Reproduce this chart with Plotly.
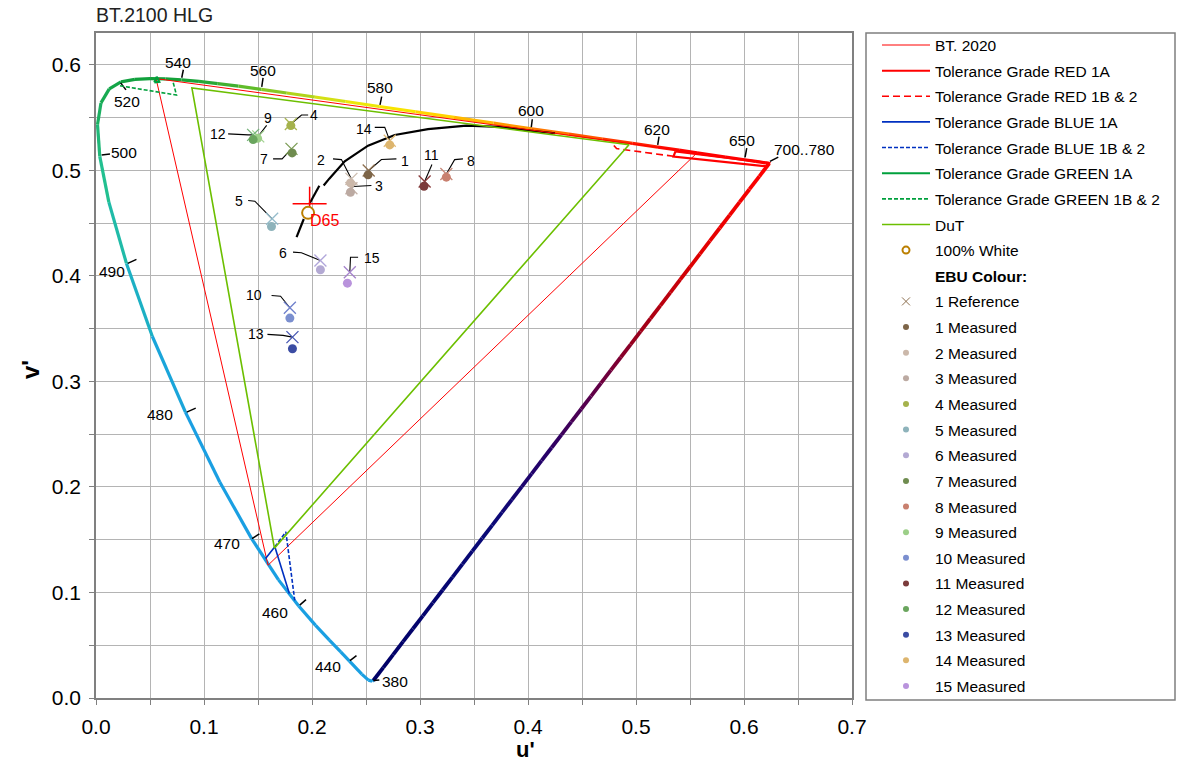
import numpy as np
import plotly.graph_objects as go

FONT = "Liberation Sans, Arial, sans-serif"

# ---------------------------------------------------------------- figure frame
W, H = 1178, 762
M_L, M_R, M_T, M_B = 96, 326, 33, 64
U_RANGE = [0.0, 0.7]
V_RANGE = [0.0, 0.63]
PLOT_W = W - M_L - M_R
PLOT_H = H - M_T - M_B
PX_U = PLOT_W / (U_RANGE[1] - U_RANGE[0])   # pixels per unit u'
PX_V = PLOT_H / (V_RANGE[1] - V_RANGE[0])   # pixels per unit v'


def offset(u, v, dx, dy):
    """Move a data point by (dx, dy) screen pixels (dy positive = up)."""
    return u + dx / PX_U, v + dy / PX_V


def paper_x(px):
    return (px - M_L) / PLOT_W


def paper_y(py):
    return (H - M_B - py) / PLOT_H


# ---------------------------------------------------------------- spectral locus (CIE 1976 u'v')
wavelengths = [380, 400, 420, 430, 440, 445, 450, 455, 460, 465, 470, 475, 480, 485,
               490, 495, 500, 505, 510, 515, 520, 525, 530, 535, 540, 545, 550, 555,
               560, 565, 570, 575, 580, 585, 590, 595, 600, 605, 610, 615, 620, 625,
               630, 640, 650, 660, 680, 700]
locus_u = [0.2568, 0.2557, 0.2522, 0.2461, 0.2347, 0.2266, 0.2161, 0.2033, 0.1877, 0.1690,
           0.1441, 0.1147, 0.0828, 0.0521, 0.0282, 0.0119, 0.0035, 0.0014, 0.0046, 0.0123,
           0.0231, 0.0360, 0.0501, 0.0643, 0.0792, 0.0953, 0.1127, 0.1319, 0.1531, 0.1766,
           0.2026, 0.2312, 0.2623, 0.2960, 0.3315, 0.3681, 0.4035, 0.4379, 0.4692, 0.4968,
           0.5203, 0.5399, 0.5565, 0.5830, 0.6005, 0.6109, 0.6199, 0.6234]
locus_v = [0.0166, 0.0159, 0.0169, 0.0226, 0.0350, 0.0437, 0.0549, 0.0688, 0.0871, 0.1119,
           0.1510, 0.2044, 0.2708, 0.3427, 0.4117, 0.4698, 0.5131, 0.5432, 0.5638, 0.5770,
           0.5837, 0.5861, 0.5868, 0.5865, 0.5856, 0.5841, 0.5821, 0.5796, 0.5766, 0.5732,
           0.5694, 0.5651, 0.5604, 0.5554, 0.5501, 0.5446, 0.5393, 0.5342, 0.5296, 0.5254,
           0.5219, 0.5190, 0.5165, 0.5125, 0.5099, 0.5084, 0.5070, 0.5065]
locus_colours = (['#1a9fe2'] * 12 +
                 ['#1aa5da', '#1cb0c4', '#20bba8', '#22c090', '#20b878', '#1cb062', '#18aa52',
                  '#14a548', '#12a040', '#10a03c', '#12a03a', '#14a238', '#1aa438', '#28a836',
                  '#40b030', '#60bc2a', '#88c824', '#b0d41c', '#d4e014', '#ece80a', '#f8e400',
                  '#ffd400', '#ffb800', '#ff9800', '#ff7800', '#ff5800', '#ff3800', '#ff2000',
                  '#ff0c00'] +
                 ['#ff0000'] * 7)

# purple line colour ramp (fraction along the line from 700 nm to 380 nm)
purple_stops = [0.0, 0.18, 0.32, 0.44, 0.56, 0.70, 1.0]
purple_colours = ['#ff0000', '#e00000', '#a00018', '#600048', '#280068', '#0a0a78', '#000066']

# labelled wavelengths
wl_marks = [380, 440, 460, 470, 480, 490, 500, 520, 540, 560, 580, 600, 620, 650, 700]
wl_text = ['380', '440', '460', '470', '480', '490', '500', '520', '540', '560', '580',
           '600', '620', '650', '700..780']
# tick start / end and label centre, in pixels relative to the locus point
wl_tick_start = [(0, 0), (0.5, 0.5), (1, 1), (0.3, 0), (1.3, 0), (1.3, 0), (1.9, 1.5),
                 (-0.3, -1), (0.2, 2.1), (0.4, 2.5), (0.7, 1.6), (-0.5, 1.5), (-0.2, 2.3),
                 (0.5, 2.3), (0.7, 1.9)]
wl_tick_end = [(6, 0.5), (7, 5.5), (7.3, 6.5), (7.7, 4.7), (10.3, 4), (10, 4), (10.2, 2.5),
               (5, -8), (1.8, 10.1), (1.7, 11.5), (2.4, 9.9), (0.5, 9.5), (1.1, 10.6),
               (2.2, 11.7), (9, 6.3)]
wl_label_pos = [(21.7, -1), (-21.2, -5), (-23.7, -6.8), (-25, -5.3), (-25.4, -1.9),
                (-14.5, -8.5), (24.2, 3.5), (6, -20), (-3.5, 17.1), (1.7, 18.5), (0.7, 18.6),
                (-0.8, 18.6), (-0.9, 17.3), (-2.8, 19), (35.5, 13.6)]

# ---------------------------------------------------------------- gamut triangles and tolerances
bt2020_u = [0.5566, 0.0556, 0.1593, 0.5566]
bt2020_v = [0.5165, 0.5868, 0.1258, 0.5165]

red_1a_u = [0.5365, 0.6234, 0.6215, 0.5347, 0.5365]
red_1a_v = [0.5178, 0.5068, 0.5036, 0.5130, 0.5178]
red_1b_u = [0.4795, 0.4820, 0.5347]
red_1b_v = [0.5235, 0.5205, 0.5132]

blue_1a_u = [0.1570, 0.1656, 0.1790]
blue_1a_v = [0.1322, 0.1432, 0.0990]
blue_1b_u = [0.1656, 0.1758, 0.1840]
blue_1b_v = [0.1432, 0.1574, 0.0925]

green_1a_u = [0.0540, 0.0562, 0.0586, 0.0540]
green_1a_v = [0.5832, 0.5885, 0.5838, 0.5832]
green_1b_u = [0.0222, 0.0745, 0.0710]
green_1b_v = [0.5800, 0.5712, 0.5850]

dut_u = [0.4935, 0.0888, 0.1652, 0.4935]
dut_v = [0.5242, 0.5780, 0.1420, 0.5242]

# ---------------------------------------------------------------- white point
d65 = (0.1978, 0.4683)
white_measured = (0.1964, 0.4596)

# Planckian locus, drawn in three pieces
planck_lo_u = [0.1857, 0.1924]
planck_lo_v = [0.4366, 0.4538]
planck_mid_u = [0.1975, 0.2068]
planck_mid_v = [0.4680, 0.4852]
planck_hi_u = [0.2108, 0.2160, 0.2303, 0.2519, 0.2766, 0.3074, 0.3430, 0.3737, 0.4015, 0.4250]
planck_hi_v = [0.4855, 0.4920, 0.5085, 0.5233, 0.5334, 0.5390, 0.5423, 0.5410, 0.5375, 0.5350]

# ---------------------------------------------------------------- EBU colours
ebu_ids = list(range(1, 16))
ref_u = [0.2525, 0.2365, 0.2365, 0.1804, 0.1631, 0.2078, 0.1810, 0.3244, 0.1502, 0.1795,
         0.3043, 0.1455, 0.1819, 0.2720, 0.2350]
ref_v = [0.4997, 0.4918, 0.4830, 0.5438, 0.4540, 0.4145, 0.5202, 0.4965, 0.5321, 0.3697,
         0.4893, 0.5335, 0.3419, 0.5280, 0.4034]
meas_u = [0.2519, 0.2356, 0.2356, 0.1804, 0.1625, 0.2078, 0.1816, 0.3244, 0.1496, 0.1795,
          0.3037, 0.1455, 0.1819, 0.2720, 0.2328]
meas_v = [0.4956, 0.4880, 0.4791, 0.5423, 0.4467, 0.4057, 0.5164, 0.4934, 0.5302, 0.3599,
          0.4848, 0.5290, 0.3309, 0.5240, 0.3930]
meas_colours = ['#7d6548', '#cbb8aa', '#bcaaa2', '#a5b24c', '#8eb3bb', '#b3a9d3', '#6f8c4f',
                '#c9806f', '#9ccf88', '#7b8fcf', '#7b3b3b', '#6aa55e', '#3b4ca3', '#ddb56e',
                '#b993dc']
ref_colours = ['#8d7050', '#ccbcae', '#c4b2a8', '#a9b653', '#95bccb', '#b0a6da', '#7c9d55',
               '#c88a7b', '#a3d392', '#6f80cc', '#8a3c3c', '#75b27a', '#4757b3', '#e2bb75',
               '#a583cc']
# callout geometry, pixels relative to the reference cross (dy positive = up)
ebu_elbow = [(12.7, 11), (-10, 19.3), (2, 1.6), (10.7, 9), (-17.3, 17.6), (-19, 7.7),
             (-9.4, -10), (8.3, 14.3), (8.4, 10), (-9.3, 11.6), (7.3, 16.7), (-5, 0),
             (-9.4, 1.7), (-5, 13.3), (0.7, 15)]
ebu_end = [(27.7, 11.7), (-18.4, 20), (20, 2.6), (17.3, 9), (-24, 18.3), (-27.4, 8.3),
           (-18.4, -10), (16.6, 15), (8.4, 11), (-18.3, 12.3), (7.3, 17), (-25, 1),
           (-25, 2.7), (-15, 13.3), (8.3, 15)]
ebu_label_pos = [(36, 9.3), (-30, 19.3), (27.6, 2.6), (23.3, 9), (-33, 17.6), (-37.4, 7.3),
                 (-27.4, -10), (24.3, 13.3), (9.4, 18), (-36, 12.3), (7.3, 26.7), (-35.6, 1),
                 (-36, 2.7), (-25.7, 11.7), (21.7, 14.4)]

# legend panel geometry (pixels)
LEG_BOX = (866, 33, 1175, 700)
LEG_LEFT = 877
LEG_FIRST_ROW = 45
LEG_ROW_STEP = 25.64
LEG_FONT = 15.5
LEG_SPLIT = 13            # rows in the first legend block


# ---------------------------------------------------------------- helpers
def hex_rgb(h):
    return [int(h[i:i + 2], 16) for i in (1, 3, 5)]


def purple_colour(t):
    cols = np.array([hex_rgb(c) for c in purple_colours], float)
    rgb = [np.interp(t, purple_stops, cols[:, k]) for k in range(3)]
    return 'rgb(%d,%d,%d)' % tuple(int(round(c)) for c in rgb)


fig = go.Figure()


def add_line(us, vs, colour, width, dash='solid'):
    fig.add_trace(go.Scatter(
        x=us, y=vs, mode='lines', line=dict(color=colour, width=width, dash=dash),
        showlegend=False, hoverinfo='skip'))


legend_rows = []   # (name, legend trace kwargs)


def add_legend_row(name, **kw):
    legend_rows.append((name, kw))


# spectral locus, one coloured piece per wavelength step
for i in range(len(wavelengths) - 1):
    add_line([locus_u[i], locus_u[i + 1]], [locus_v[i], locus_v[i + 1]],
             locus_colours[i], 3.2)

# purple line, shaded from red to deep blue
n_steps = 40
u_a, v_a = locus_u[-1], locus_v[-1]
u_b, v_b = locus_u[0], locus_v[0]
for k in range(n_steps):
    t0, t1 = k / n_steps, (k + 1) / n_steps
    add_line([u_a + (u_b - u_a) * t0, u_a + (u_b - u_a) * t1],
             [v_a + (v_b - v_a) * t0, v_a + (v_b - v_a) * t1],
             purple_colour((t0 + t1) / 2), 3.8)

# wavelength ticks
for wl, (sx, sy), (ex, ey) in zip(wl_marks, wl_tick_start, wl_tick_end):
    i = wavelengths.index(wl)
    p0 = offset(locus_u[i], locus_v[i], sx, sy)
    p1 = offset(locus_u[i], locus_v[i], ex, ey)
    add_line([p0[0], p1[0]], [p0[1], p1[1]], 'black', 1.5)

# Planckian locus
add_line(planck_lo_u, planck_lo_v, 'black', 2.2)
add_line(planck_mid_u, planck_mid_v, 'black', 2.2)
add_line(planck_hi_u, planck_hi_v, 'black', 2.2)

# D65 target cross
h0 = offset(*d65, -17, 0)
h1 = offset(*d65, 17, 0)
v0 = offset(*d65, 0, 17)
v1 = offset(*d65, 0, -13)
add_line([h0[0], h1[0]], [h0[1], h1[1]], '#ff0000', 1.5)
add_line([v0[0], v1[0]], [v0[1], v1[1]], '#ff0000', 1.5)

# EBU callout lines
for u, v, el, en in zip(ref_u, ref_v, ebu_elbow, ebu_end):
    pe = offset(u, v, *el)
    pn = offset(u, v, *en)
    add_line([u, pe[0], pn[0]], [v, pe[1], pn[1]], 'black', 1.1)

# gamut / tolerance outlines
outlines = [
    ('BT. 2020', bt2020_u, bt2020_v, '#ff0000', 1, 'solid'),
    ('Tolerance Grade RED 1A', red_1a_u, red_1a_v, '#ff0000', 2.2, 'solid'),
    ('Tolerance Grade RED 1B & 2', red_1b_u, red_1b_v, '#ff0000', 1.6, '7px,4px'),
    ('Tolerance Grade BLUE 1A', blue_1a_u, blue_1a_v, '#0030c0', 1.6, 'solid'),
    ('Tolerance Grade BLUE 1B & 2', blue_1b_u, blue_1b_v, '#0030c0', 1.6, '4px,2px'),
    ('Tolerance Grade GREEN 1A', green_1a_u, green_1a_v, '#00a03c', 2.2, 'solid'),
    ('Tolerance Grade GREEN 1B & 2', green_1b_u, green_1b_v, '#00a03c', 1.6, '4px,2px'),
    ('DuT', dut_u, dut_v, '#6cbf00', 1.6, 'solid'),
]
for name, us, vs, col, wid, dash in outlines:
    add_line(us, vs, col, wid, dash)
    add_legend_row(name, mode='lines', line=dict(color=col, width=min(wid, 2), dash=dash))

# measured white
fig.add_trace(go.Scatter(
    x=[white_measured[0]], y=[white_measured[1]], mode='markers', showlegend=False,
    marker=dict(symbol='circle', size=12, color='white', line=dict(color='#bb7f00', width=2)),
    hoverinfo='skip'))
add_legend_row('100% White', mode='markers',
               marker=dict(symbol='circle', size=7, color='white',
                           line=dict(color='#bb7f00', width=2)))
add_legend_row('<b>EBU Colour:</b>', mode='markers',
               marker=dict(size=1, color='rgba(0,0,0,0)'))

# EBU references and measurements
fig.add_trace(go.Scatter(
    x=ref_u, y=ref_v, mode='markers', showlegend=False,
    marker=dict(symbol='x-thin', size=12, color=ref_colours,
                line=dict(width=1.3, color=ref_colours)),
    hoverinfo='skip'))
add_legend_row('1 Reference', mode='markers',
               marker=dict(symbol='x-thin', size=8, color=ref_colours[0],
                           line=dict(width=1, color=ref_colours[0])))

for i, n in enumerate(ebu_ids):
    fig.add_trace(go.Scatter(
        x=[meas_u[i]], y=[meas_v[i]], mode='markers', showlegend=False,
        marker=dict(symbol='circle', size=9, color=meas_colours[i]),
        hoverinfo='skip'))
    add_legend_row(f'{n} Measured', mode='markers',
                   marker=dict(symbol='circle', size=6, color=meas_colours[i]))

# legend entries, split over two stacked legend blocks
for k, (name, kw) in enumerate(legend_rows):
    fig.add_trace(go.Scatter(
        x=[None], y=[None], name=name, legendgroup=f'row{k}',
        legend='legend' if k < LEG_SPLIT else 'legend2',
        showlegend=True, hoverinfo='skip', **kw))

# ---------------------------------------------------------------- text labels
annotations = []
for wl, txt, (lx, ly) in zip(wl_marks, wl_text, wl_label_pos):
    i = wavelengths.index(wl)
    annotations.append(dict(x=locus_u[i], y=locus_v[i], xref='x', yref='y', text=txt,
                            showarrow=False, xshift=lx, yshift=ly,
                            xanchor='center', yanchor='middle',
                            font=dict(family=FONT, size=15.5, color='black')))

for n, u, v, (lx, ly) in zip(ebu_ids, ref_u, ref_v, ebu_label_pos):
    annotations.append(dict(x=u, y=v, xref='x', yref='y', text=str(n), showarrow=False,
                            xshift=lx, yshift=ly, xanchor='center', yanchor='middle',
                            font=dict(family=FONT, size=14, color='black')))

annotations.append(dict(x=white_measured[0], y=white_measured[1], xref='x', yref='y',
                        text='D65', showarrow=False, xshift=16, yshift=-8,
                        xanchor='center', yanchor='middle',
                        font=dict(family=FONT, size=16, color='#ff0000')))

annotations.append(dict(x=paper_x(525), y=paper_y(749), xref='paper', yref='paper',
                        text="<b>u'</b>", showarrow=False, xanchor='center',
                        yanchor='middle', font=dict(family=FONT, size=22, color='black')))
annotations.append(dict(x=paper_x(30), y=paper_y(370), xref='paper', yref='paper',
                        text="<b>v'</b>", showarrow=False, textangle=-90,
                        xanchor='center', yanchor='middle',
                        font=dict(family=FONT, size=24, color='black')))

axis_style = dict(
    showgrid=True, gridcolor='#b4b4b4', gridwidth=1,
    minor=dict(dtick=0.05, showgrid=True, gridcolor='#b4b4b4', gridwidth=1,
               ticks='outside', ticklen=5, tickcolor='#808080'),
    dtick=0.1, tickformat='.1f', ticks='outside', ticklen=5, tickcolor='#808080',
    showline=True, linecolor='#808080', linewidth=1.5, mirror=True, zeroline=False,
    tickfont=dict(family=FONT, size=21, color='black'), ticklabelstandoff=4,
)

# legend rows: centre of row = top + itemGap(5) + row height / 2
row_h = LEG_FONT * 1.3 + 3
gap = LEG_ROW_STEP - row_h
top1 = LEG_FIRST_ROW - 5 - row_h / 2
top2 = top1 + LEG_SPLIT * LEG_ROW_STEP
legend_common = dict(x=paper_x(LEG_LEFT), xanchor='left', yanchor='top', borderwidth=0,
                     bgcolor='rgba(0,0,0,0)', itemwidth=48, traceorder='grouped',
                     tracegroupgap=gap,
                     font=dict(family=FONT, size=LEG_FONT, color='black'))

fig.update_layout(
    width=W, height=H,
    margin=dict(l=M_L, r=M_R, t=M_T, b=M_B),
    paper_bgcolor='white', plot_bgcolor='white',
    title=dict(text='BT.2100 HLG', x=M_L / W, xref='container', xanchor='left',
               y=1 - 15 / H, yref='container', yanchor='middle',
               font=dict(family=FONT, size=19.5, color='#222222')),
    xaxis=dict(range=U_RANGE, **axis_style),
    yaxis=dict(range=V_RANGE, **axis_style),
    showlegend=True,
    legend=dict(y=paper_y(top1), **legend_common),
    legend2=dict(y=paper_y(top2), **legend_common),
    shapes=[dict(type='rect', xref='paper', yref='paper',
                 x0=paper_x(LEG_BOX[0]), x1=paper_x(LEG_BOX[2]),
                 y0=paper_y(LEG_BOX[3]), y1=paper_y(LEG_BOX[1]),
                 line=dict(color='#7f7f7f', width=1.5), fillcolor='rgba(0,0,0,0)')],
    annotations=annotations,
)

fig.write_html("out.html")
